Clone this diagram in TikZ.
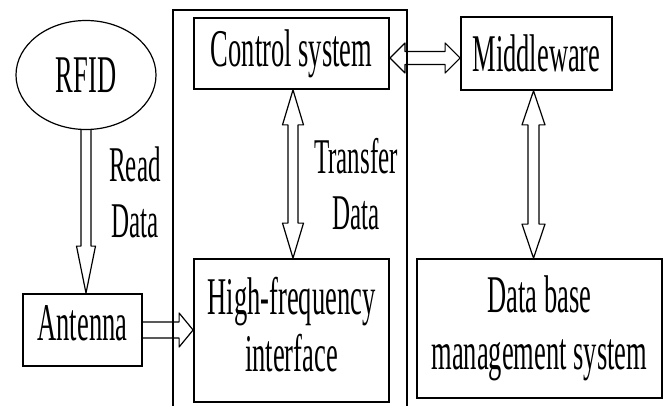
\documentclass[tikz,border=0pt]{standalone}
\usepackage{fontspec}
\setmainfont{Liberation Serif}[FakeStretch=0.5]
\usetikzlibrary{calc,shapes.geometric}

\newcommand\bigserif{\fontsize{53}{57}\selectfont}
\newcommand\tagserif{\fontsize{50}{56}\selectfont}

% hollow block arrow with one head: [opts]{from}{to}{half shaft}{half head}{head length}
\newcommand\singleblock[6][]{%
  \path (#2) coordinate (ba-s) (#3) coordinate (ba-t);
  \path ($(ba-t)!#6!(ba-s)$) coordinate (ba-b);
  \draw[blockline,#1]
    ($(ba-s)!#4!90:(ba-t)$) -- ($(ba-b)!#4!90:(ba-t)$) -- ($(ba-b)!#5!90:(ba-t)$)
    -- (ba-t)
    -- ($(ba-b)!#5!-90:(ba-t)$) -- ($(ba-b)!#4!-90:(ba-t)$) -- ($(ba-s)!#4!-90:(ba-t)$);
}
% hollow block arrow with heads at both ends
\newcommand\doubleblock[6][]{%
  \path (#2) coordinate (ba-s) (#3) coordinate (ba-t);
  \path ($(ba-s)!#6!(ba-t)$) coordinate (ba-a) ($(ba-t)!#6!(ba-s)$) coordinate (ba-b);
  \draw[blockline,#1] (ba-s)
    -- ($(ba-a)!#5!90:(ba-t)$) -- ($(ba-a)!#4!90:(ba-t)$)
    -- ($(ba-b)!#4!90:(ba-t)$) -- ($(ba-b)!#5!90:(ba-t)$)
    -- (ba-t)
    -- ($(ba-b)!#5!-90:(ba-t)$) -- ($(ba-b)!#4!-90:(ba-t)$)
    -- ($(ba-a)!#4!-90:(ba-t)$) -- ($(ba-a)!#5!-90:(ba-t)$) -- cycle;
}

\tikzset{
  unitbox/.style={draw, line width=1.8pt, rectangle, inner sep=0pt, align=center, font=\bigserif},
  tagoval/.style={draw, line width=1.2pt, ellipse, inner sep=0pt, font=\bigserif},
  sidelabel/.style={inner sep=0pt, align=center, font=\tagserif},
  blockline/.style={line width=1.2pt, line join=round},
  framing/.style={line width=1.4pt},
}

\begin{document}
\begin{tikzpicture}[x=1pt, y=-1pt]
  \useasboundingbox (0,0) rectangle (668,406);

  % blocks
  \node[tagoval, minimum width=140pt, minimum height=109pt] (rfid) at (86,75) {RFID};
  \node[unitbox, minimum width=195pt, minimum height=71pt] (ctrl) at (291.5,53.5) {Control system};
  \node[unitbox, minimum width=151pt, minimum height=73pt] (mid) at (536.5,53.5) {Middleware};
  \node[unitbox, minimum width=119pt, minimum height=72pt, text height=35pt, text depth=15pt] (ant) at (82.5,330) {Antenna};
  \node[unitbox, minimum width=195pt, minimum height=143pt] (hf) at (291.5,330.5) {High-frequency\\interface\rule[-12pt]{0pt}{0pt}};
  \node[unitbox, minimum width=245pt, minimum height=139pt] (db) at (539.3,328.5) {Data base\\management system};

  % arrow labels
  \node[sidelabel] (readlbl) at (135,192) {Read\\Data};
  \node[sidelabel] (xferlbl) at (356,184.5) {Transfer\\Data};

  % connectors
  \singleblock{rfid.south}{rfid.south |- ant.north}{5pt}{9.5pt}{47pt}
  \singleblock{ant.east}{hf.west |- ant.east}{8pt}{17pt}{14pt}
  \doubleblock{[xshift=1.5pt]ctrl.south}{[xshift=1.5pt]hf.north}{5pt}{10.5pt}{35pt}
  \doubleblock{[yshift=-4.5pt]ctrl.east}{[yshift=-4.5pt]mid.west}{6.5pt}{15pt}{15pt}
  \doubleblock{[xshift=-3pt]mid.south}{[xshift=-3pt]mid.south |- db.north}{5.5pt}{11.5pt}{34pt}

  % enclosure around the control unit
  \draw[framing] (173,406) |- (407,10) -- (407,406);
\end{tikzpicture}
\end{document}
